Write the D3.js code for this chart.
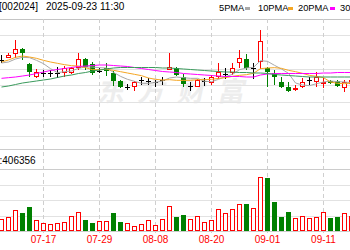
<!DOCTYPE html>
<html>
<head>
<meta charset="utf-8">
<script src="https://cdnjs.cloudflare.com/ajax/libs/d3/7.8.5/d3.min.js"></script>
<style>
    body { margin: 0; background: #fff; }
    svg { display: block; }
</style>
</head>
<body>
<div id="KLineDiv"></div>
<script>
// Trading days shown in the window (the chart is cut at the right edge)
var dates = ['07-09', '07-10', '07-11', '07-14', '07-15', '07-16', '07-17', '07-18', '07-21', '07-22',
    '07-23', '07-24', '07-25', '07-28', '07-29', '07-30', '07-31', '08-01', '08-04', '08-05',
    '08-06', '08-07', '08-08', '08-11', '08-12', '08-13', '08-14', '08-15', '08-18', '08-19',
    '08-20', '08-21', '08-22', '08-25', '08-26', '08-27', '08-28', '08-29', '09-01', '09-02',
    '09-03', '09-04', '09-05', '09-08', '09-09', '09-10', '09-11', '09-12', '09-15', '09-16', '09-17'];

var openP = [2.228, 2.237, 2.249, 2.261, 2.216, 2.180, 2.189, 2.189, 2.189, 2.192,
    2.192, 2.207, 2.231, 2.216, 2.195, 2.204, 2.189, 2.165, 2.147, 2.150,
    2.168, 2.165, 2.162, 2.168, 2.201, 2.204, 2.177, 2.150, 2.150, 2.165,
    2.162, 2.180, 2.186, 2.192, 2.222, 2.231, 2.204, 2.225, 2.204, 2.189,
    2.162, 2.147, 2.141, 2.150, 2.168, 2.165, 2.160, 2.165, 2.165, 2.147, 2.159];
var closeP = [2.228, 2.243, 2.261, 2.249, 2.192, 2.192, 2.189, 2.189, 2.189, 2.204,
    2.204, 2.231, 2.207, 2.189, 2.195, 2.195, 2.165, 2.147, 2.147, 2.162,
    2.168, 2.165, 2.162, 2.168, 2.207, 2.183, 2.156, 2.150, 2.168, 2.165,
    2.177, 2.192, 2.186, 2.204, 2.234, 2.204, 2.204, 2.285, 2.192, 2.177,
    2.147, 2.135, 2.143, 2.162, 2.168, 2.177, 2.162, 2.159, 2.150, 2.162, 2.168];
var highP = [2.243, 2.249, 2.288, 2.264, 2.219, 2.201, 2.198, 2.198, 2.207, 2.210,
    2.207, 2.249, 2.234, 2.222, 2.204, 2.219, 2.195, 2.168, 2.156, 2.165,
    2.177, 2.174, 2.168, 2.177, 2.249, 2.207, 2.186, 2.162, 2.171, 2.174,
    2.183, 2.219, 2.204, 2.219, 2.258, 2.246, 2.219, 2.318, 2.207, 2.198,
    2.177, 2.162, 2.153, 2.174, 2.177, 2.192, 2.174, 2.168, 2.168, 2.168, 2.174];
var lowP = [2.219, 2.234, 2.234, 2.228, 2.177, 2.174, 2.177, 2.177, 2.174, 2.177,
    2.186, 2.198, 2.198, 2.183, 2.189, 2.180, 2.150, 2.144, 2.138, 2.135,
    2.153, 2.153, 2.147, 2.153, 2.198, 2.180, 2.147, 2.135, 2.147, 2.150,
    2.153, 2.171, 2.171, 2.183, 2.204, 2.198, 2.171, 2.201, 2.147, 2.153,
    2.144, 2.132, 2.135, 2.144, 2.153, 2.147, 2.144, 2.156, 2.147, 2.132, 2.153];

// Moving averages
var ma5 = [2.219, 2.222, 2.231, 2.236, 2.235, 2.227, 2.217, 2.202, 2.190, 2.193,
    2.195, 2.203, 2.207, 2.207, 2.205, 2.204, 2.191, 2.179, 2.170, 2.164,
    2.158, 2.158, 2.161, 2.165, 2.174, 2.177, 2.175, 2.173, 2.173, 2.164,
    2.163, 2.170, 2.178, 2.185, 2.199, 2.204, 2.206, 2.226, 2.224, 2.212,
    2.201, 2.188, 2.159, 2.153, 2.151, 2.157, 2.162, 2.165, 2.163, 2.162, 2.160];
var ma10 = [2.222, 2.228, 2.236, 2.240, 2.237, 2.233, 2.227, 2.222, 2.218, 2.214,
    2.211, 2.210, 2.205, 2.199, 2.199, 2.200, 2.197, 2.193, 2.189, 2.185,
    2.181, 2.174, 2.170, 2.168, 2.169, 2.167, 2.167, 2.167, 2.169, 2.169,
    2.170, 2.173, 2.175, 2.179, 2.182, 2.184, 2.188, 2.202, 2.204, 2.205,
    2.203, 2.197, 2.193, 2.188, 2.182, 2.179, 2.175, 2.162, 2.158, 2.157, 2.159];
var ma20 = [2.173, 2.175, 2.177, 2.180, 2.183, 2.1875, 2.192, 2.1965, 2.1995, 2.2025,
    2.2055, 2.2085, 2.210, 2.2115, 2.213, 2.213, 2.2115, 2.210, 2.2085, 2.2055,
    2.2025, 2.1995, 2.1965, 2.1935, 2.192, 2.1905, 2.1875, 2.186, 2.1845, 2.183,
    2.1815, 2.180, 2.1785, 2.1785, 2.1785, 2.177, 2.177, 2.183, 2.186, 2.1875,
    2.1875, 2.1875, 2.1875, 2.1875, 2.1875, 2.1875, 2.189, 2.189, 2.1905, 2.1905, 2.1905];
var ma30 = [2.147, 2.150, 2.1545, 2.159, 2.162, 2.165, 2.168, 2.171, 2.1755, 2.180,
    2.183, 2.1875, 2.1905, 2.195, 2.198, 2.201, 2.204, 2.2055, 2.2055, 2.2055,
    2.2055, 2.2055, 2.2055, 2.204, 2.204, 2.2025, 2.201, 2.1995, 2.198, 2.1965,
    2.195, 2.1935, 2.192, 2.192, 2.1905, 2.1905, 2.189, 2.189, 2.1875, 2.1845,
    2.183, 2.1815, 2.180, 2.1785, 2.177, 2.177, 2.177, 2.177, 2.177, 2.177, 2.177];

// Volume (10k units) and whether the bar is drawn as a rising (red) bar
var volume = [25, 28, 43, 36, 47, 23, 16, 14, 17, 19,
    30, 39, 23, 16, 21, 21, 37, 18, 16, 10,
    14, 22, 12, 24, 50, 28, 32, 24, 30, 18,
    22, 44, 36, 44, 54, 54, 46, 108, 106, 58,
    28, 38, 26, 30, 26, 28, 38, 26, 28, 36, 30];
var volumeUp = [1, 1, 1, 0, 0, 1, 1, 1, 1, 1,
    1, 1, 0, 0, 1, 1, 0, 0, 1, 1,
    1, 1, 1, 1, 1, 0, 0, 1, 1, 1,
    1, 1, 1, 1, 1, 0, 1, 1, 0, 0,
    0, 0, 1, 1, 1, 1, 1, 0, 0, 1, 1];

var dateTicks = ['07-17', '07-29', '08-08', '08-20', '09-01', '09-11'];
var priceTicks = [2.00, 2.05, 2.10, 2.15, 2.20, 2.25, 2.30, 2.35];
var volumeTicks = [0, 30, 61, 92, 124, 164];
var maNames = ['5PMA', '10PMA', '20PMA', '30PMA'];
var titleParts = ['[002024]', '2025-09-23', '11:30'];
var volumeLabel = ':406356';

var width = 350, height = 250;
var red = '#ff0000', green = '#008000';
var maColors = ['#a8a8a8', '#f5a623', '#ff00ff', '#3a9a5c'];
var font = "'Liberation Sans', Arial, sans-serif";

var svg = d3.select('#KLineDiv').append('svg')
    .attr('width', width)
    .attr('height', height);

// 7px per trading day
var x = d3.scaleBand().domain(dates).range([-2, -2 + 7 * dates.length]);
var y = d3.scaleLinear().domain([2.00, 2.35]).range([136, 19.333]);
var yVol = d3.scaleLinear().domain([0, 164]).range([231, 149]);

function cx(d) {
    return x(d) + x.bandwidth() / 2;
}
function crisp(v) {
    return Math.floor(v) + 0.5;
}

//Watermark behind everything
svg.append('text')
    .attr('transform', 'translate(97,101) skewX(-12)')
    .style('font', "bold 27px 'Noto Sans CJK SC', sans-serif")
    .style('letter-spacing', '13px')
    .style('fill', '#ededed')
    .text('东方财富');

//Horizontal grid of the price panel
svg.append('g').selectAll('line')
    .data(priceTicks)
    .enter().append('line')
    .attr('x1', 0).attr('x2', width)
    .attr('y1', function(d) { return crisp(y(d)); })
    .attr('y2', function(d) { return crisp(y(d)); })
    .style('stroke', function(d) { return d === 2.35 ? '#c4c4c4' : '#e2e2e2'; });

//Horizontal grid of the volume panel
svg.append('g').selectAll('line')
    .data(volumeTicks)
    .enter().append('line')
    .attr('x1', 0).attr('x2', width)
    .attr('y1', function(d) { return crisp(yVol(d)); })
    .attr('y2', function(d) { return crisp(yVol(d)); })
    .style('stroke', function(d) { return (d === 164 || d === 124 || d === 0) ? '#cccccc' : '#e2e2e2'; });

//Vertical dashed lines at the labelled dates
svg.append('g').selectAll('line')
    .data(dateTicks)
    .enter().append('line')
    .attr('x1', function(d) { return cx(d); })
    .attr('x2', function(d) { return cx(d); })
    .attr('y1', 19).attr('y2', 233)
    .style('stroke', '#cfcfcf')
    .style('stroke-dasharray', '4,3');

//Candles
var bars = dates.map(function(d, i) {
    return { date: d, o: openP[i], h: highP[i], l: lowP[i], c: closeP[i] };
});

var candle = svg.append('g').selectAll('g')
    .data(bars)
    .enter().append('g');

candle.each(function(d) {
    var g = d3.select(this);
    var xc = cx(d.date);
    var top = Math.round(y(Math.max(d.o, d.c)));
    var bot = Math.round(y(Math.min(d.o, d.c)));
    var hi = Math.round(y(d.h));
    var lo = Math.round(y(d.l));
    if (d.c > d.o) {
        //Hollow red body, wick stops at the box
        g.append('line').attr('x1', xc).attr('x2', xc).attr('y1', hi).attr('y2', top)
            .style('stroke', red);
        g.append('line').attr('x1', xc).attr('x2', xc).attr('y1', bot + 1).attr('y2', lo)
            .style('stroke', red);
        g.append('rect')
            .attr('x', xc - 2).attr('y', top + 0.5)
            .attr('width', 4).attr('height', Math.max(bot - top, 0.01))
            .style('fill', '#fff').style('stroke', red);
    } else if (d.c < d.o) {
        g.append('line').attr('x1', xc).attr('x2', xc).attr('y1', hi).attr('y2', lo)
            .style('stroke', green);
        g.append('rect')
            .attr('x', xc - 2.5).attr('y', top)
            .attr('width', 5).attr('height', Math.max(bot - top, 1))
            .style('fill', green);
    } else {
        //Flat day: black cross
        g.append('line').attr('x1', xc).attr('x2', xc).attr('y1', hi).attr('y2', lo)
            .style('stroke', '#000');
        g.append('line').attr('x1', xc - 2.5).attr('x2', xc + 2.5)
            .attr('y1', top + 0.5).attr('y2', top + 0.5)
            .style('stroke', '#000');
    }
});

//Moving average lines on top of the candles
[ma5, ma10, ma20, ma30].forEach(function(series, k) {
    var line = d3.line()
        .x(function(d, i) { return cx(dates[i]); })
        .y(function(d) { return y(d); });
    svg.append('path')
        .datum(series)
        .attr('d', line)
        .style('fill', 'none')
        .style('stroke', maColors[k])
        .style('stroke-width', 1);
});

//Volume bars
var vol = svg.append('g').selectAll('rect')
    .data(volume)
    .enter().append('rect')
    .attr('x', function(d, i) { return volumeUp[i] ? cx(dates[i]) - 2 : cx(dates[i]) - 2.5; })
    .attr('y', function(d, i) { return volumeUp[i] ? Math.round(yVol(d)) + 0.5 : Math.round(yVol(d)); })
    .attr('width', function(d, i) { return volumeUp[i] ? 4 : 5; })
    .attr('height', function(d, i) { return volumeUp[i] ? 230.5 - Math.round(yVol(d)) - 0.5 : 231 - Math.round(yVol(d)); })
    .style('fill', function(d, i) { return volumeUp[i] ? '#fff' : green; })
    .style('stroke', function(d, i) { return volumeUp[i] ? red : 'none'; });

//Date labels
svg.append('g')
    .attr('transform', 'translate(0,231)')
    .call(d3.axisBottom(x).tickValues(dateTicks).tickSize(0).tickPadding(5).offset(0))
    .call(function(g) { g.select('.domain').remove(); })
    .selectAll('text')
    .style('fill', red)
    .style('font', '10px ' + font);

//Title row
var titleX = [-1, 46, 100];
svg.append('g').selectAll('text')
    .data(titleParts)
    .enter().append('text')
    .attr('x', function(d, i) { return titleX[i]; })
    .attr('y', 10)
    .style('font', '10px ' + font)
    .style('fill', '#000')
    .text(function(d) { return d; });

//MA legend
var legendX = [219, 258, 298, 340];
var legend = svg.append('g').selectAll('g')
    .data(maNames)
    .enter().append('g');
legend.append('text')
    .attr('x', function(d, i) { return legendX[i]; })
    .attr('y', 11)
    .style('font', '9.3px ' + font)
    .style('fill', '#000')
    .text(function(d) { return d; });
legend.append('rect')
    .attr('x', function(d, i) { return legendX[i] + [26, 30, 32, 32][i]; })
    .attr('y', 7)
    .attr('width', 5)
    .attr('height', 3)
    .style('fill', function(d, i) { return maColors[i]; });

//Volume header
svg.append('text')
    .attr('x', -0.5)
    .attr('y', 164)
    .style('font', '10px ' + font)
    .style('fill', '#000')
    .text(volumeLabel);
</script>
</body>
</html>
